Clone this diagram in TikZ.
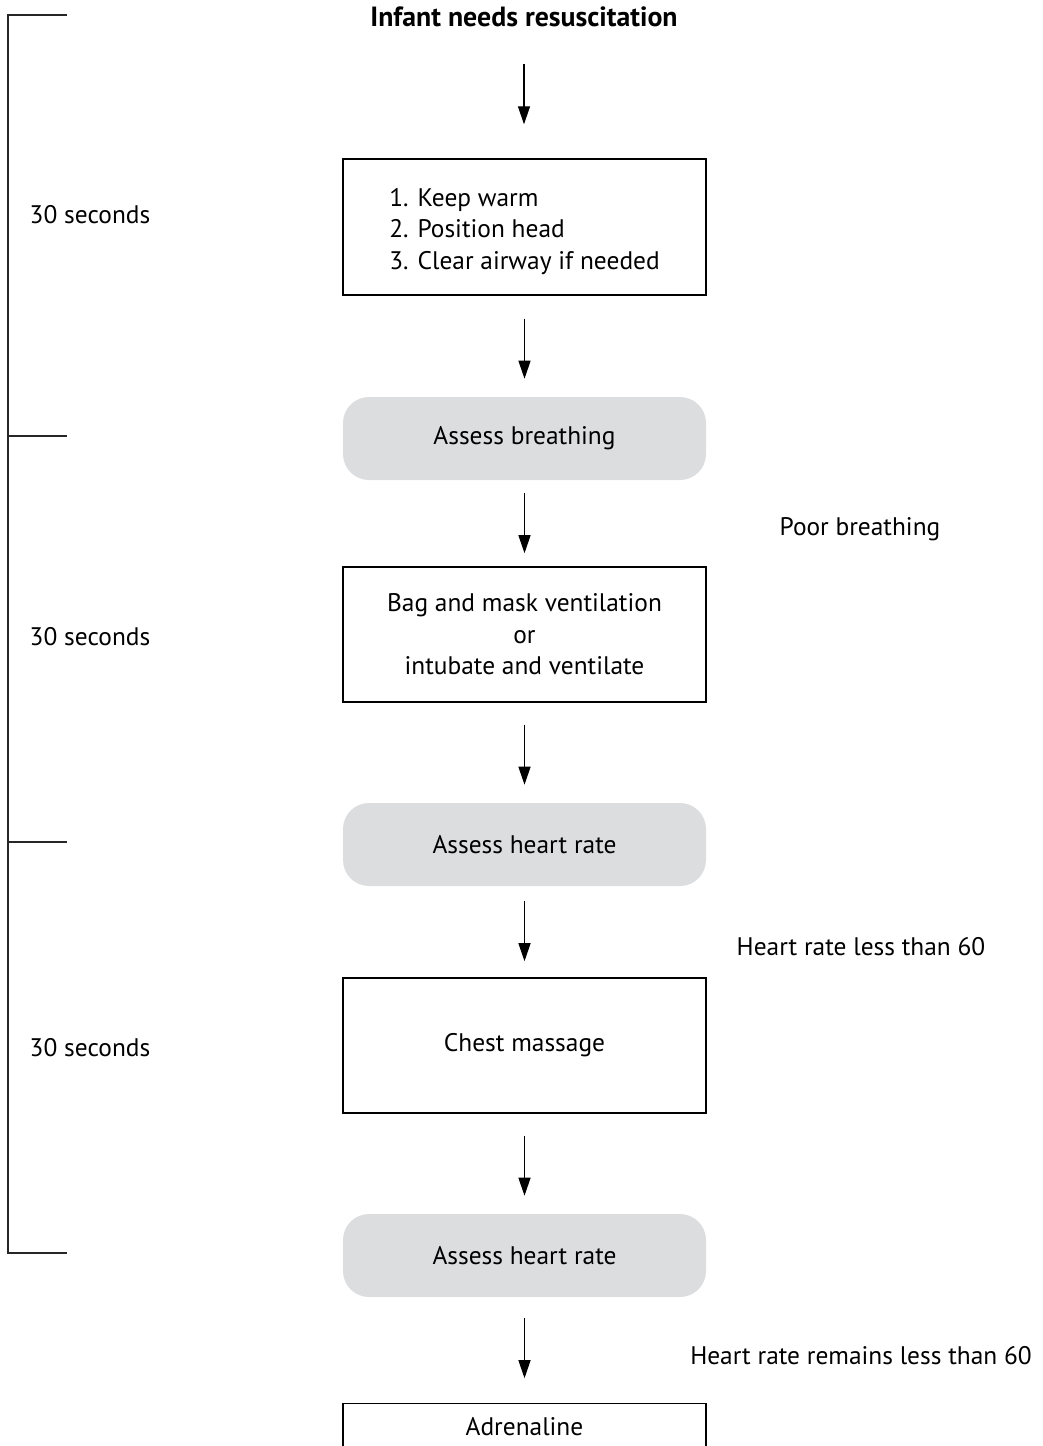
\documentclass[tikz,border=0pt]{standalone}
\usepackage{fontspec}
\setmainfont{PT Sans}
\usetikzlibrary{arrows.meta}
\definecolor{boxgray}{HTML}{DCDDDE}
\tikzset{
  x=1pt, y=-1pt,
  txt/.style={font=\fontsize{25.4}{31.5}\selectfont, inner sep=0pt},
  plainbox/.style={txt, draw=black, line width=1.4pt, minimum width=363pt, align=center},
  graybox/.style={txt, fill=boxgray, rounded corners=26pt, minimum width=363pt, minimum height=83pt},
  flow/.style={line width=1.3pt, -{Triangle[width=12pt,length=18pt]}},
  bracket/.style={line width=1.4pt, draw=black!85}
}
\begin{document}
\begin{tikzpicture}
\useasboundingbox (0,0) rectangle (1043,1446);
% bracket
\draw[bracket] (67,15) -- (8,15) -- (8,1253) -- (67,1253);
\draw[bracket] (8,436) -- (67,436);
\draw[bracket] (8,842) -- (67,842);
\node[txt] (t1) at (90,215) {30 seconds};
\node[txt] (t2) at (90,637) {30 seconds};
\node[txt] (t3) at (90,1048) {30 seconds};
% flow
\node[txt, font=\fontsize{27.8}{31.5}\selectfont\bfseries] (title) at (524,17) {Infant needs resuscitation};
\node[plainbox, minimum height=136pt, align=left] (b1) at (524.5,227) {\\[-5pt]1. Keep warm\\2. Position head\\3. Clear airway if needed};
\node[graybox] (g1) at (524.5,438.5) {Assess breathing};
\node[plainbox, minimum height=135pt] (b2) at (524.5,634.5) {Bag and mask ventilation\\or\\intubate and ventilate};
\node[graybox] (g2) at (524.5,844.5) {Assess heart rate};
\node[plainbox, minimum height=135pt] (b3) at (524.5,1045.5) {Chest massage};
\node[graybox] (g3) at (524.5,1255.5) {Assess heart rate};
\node[plainbox, minimum height=60pt, anchor=north] (b4) at (524.5,1403) {};
\node[txt] (b4t) at (524.5,1427) {Adrenaline};
\draw[flow] (title.south) ++(0,37) -- ++(0,60);
\draw[flow] (b1.south) ++(0,23) -- ++(0,60);
\draw[flow] (g1.south) ++(0,13) -- ++(0,60);
\draw[flow] (b2.south) ++(0,22) -- ++(0,60);
\draw[flow] (g2.south) ++(0,15) -- ++(0,60);
\draw[flow] (b3.south) ++(0,22) -- ++(0,60);
\draw[flow] (g3.south) ++(0,21) -- ++(0,60);
\node[txt] (l1) at (860,529) {Poor breathing};
\node[txt] (l2) at (861,947) {Heart rate less than 60};
\node[txt] (l3) at (861,1356) {Heart rate remains less than 60};
\end{tikzpicture}
\end{document}
